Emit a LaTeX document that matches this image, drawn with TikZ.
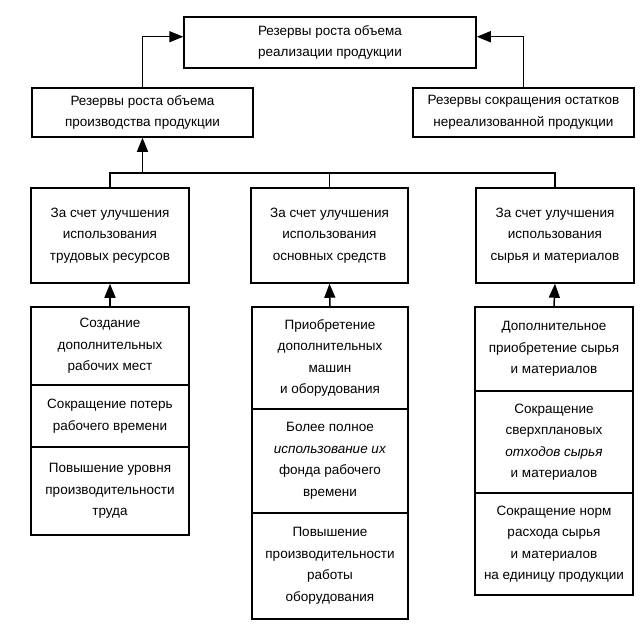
\documentclass[tikz,border=0pt]{standalone}
\usepackage{fontspec}
\setmainfont{Liberation Sans}
\usetikzlibrary{arrows.meta,calc}
\begin{document}
\begin{tikzpicture}[x=1pt,y=-1pt,
  box/.style={draw,line width=1.5pt,align=center,inner sep=0pt,font=\fontsize{13.5}{21.5}\selectfont},
  arr/.style={line width=1.5pt,-{Triangle[length=14pt,width=11pt]}},
  ln/.style={line width=1.5pt}]
\useasboundingbox[fill=white] (0,0) rectangle (643,626);
% level 1
\node[box,minimum width=292pt,minimum height=51pt] (top) at (330,42.5) {Резервы роста объема\\реализации продукции};
% level 2
\node[box,minimum width=221pt,minimum height=49pt] (l2l) at (142.5,112.5) {Резервы роста объема\\производства продукции};
\node[box,minimum width=221pt,minimum height=49pt] (l2r) at (523.5,112.5) {Резервы сокращения остатков\\нереализованной продукции};
% level 3
\node[box,minimum width=158pt,minimum height=95pt] (l3l) at (110,235.5) {За счет улучшения\\использования\\трудовых ресурсов};
\node[box,minimum width=157pt,minimum height=95pt] (l3m) at (329.5,235.5) {За счет улучшения\\использования\\основных средств};
\node[box,minimum width=158pt,minimum height=95pt] (l3r) at (555,235.5) {За счет улучшения\\использования\\сырья и материалов};
% level 4 left
\node[box,minimum width=158pt,minimum height=78pt] (l4la) at (110,346) {Создание\\дополнительных\\рабочих мест};
\node[box,minimum width=158pt,minimum height=62pt] (l4lb) at (110,416) {Сокращение потерь\\рабочего времени};
\node[box,minimum width=158pt,minimum height=88pt] (l4lc) at (110,491) {Повышение уровня\\производительности\\труда};
% level 4 middle
\node[box,minimum width=156pt,minimum height=102pt] (l4ma) at (330,358) {Приобретение\\дополнительных\\машин\\и оборудования};
\node[box,minimum width=156pt,minimum height=104pt] (l4mb) at (330,461) {Более полное\\\textit{использование их}\\фонда рабочего\\времени};
\node[box,minimum width=156pt,minimum height=106pt] (l4mc) at (330,566) {Повышение\\производительности\\работы\\оборудования};
% level 4 right
\node[box,minimum width=158pt,minimum height=84pt] (l4ra) at (554,349) {Дополнительное\\приобретение сырья\\и материалов};
\node[box,minimum width=158pt,minimum height=102pt] (l4rb) at (554,442) {Сокращение\\сверхплановых\\\textit{отходов сырья}\\и материалов};
\node[box,minimum width=158pt,minimum height=102pt] (l4rc) at (554,544) {Сокращение норм\\расхода сырья\\и материалов\\на единицу продукции};
% connectors
\draw[arr] (l2l.north) |- ($(top.north west)!0.39!(top.south west)$);
\draw[arr] (l2r.north) |- ($(top.north east)!0.39!(top.south east)$);
\coordinate (bus) at (0,173);
\draw[ln] (l3l.north) |- (l3r.north |- bus) -- (l3r.north);
\draw[ln] (l3m.north) -- (l3m.north |- bus);
\draw[arr] (l2l.south |- bus) -- (l2l.south);
\draw[arr] (l4la.north) -- (l3l.south);
\draw[arr] (l4ma.north) -- (l3m.south);
\draw[arr] (l4ra.north) -- (l3r.south);
\end{tikzpicture}
\end{document}
